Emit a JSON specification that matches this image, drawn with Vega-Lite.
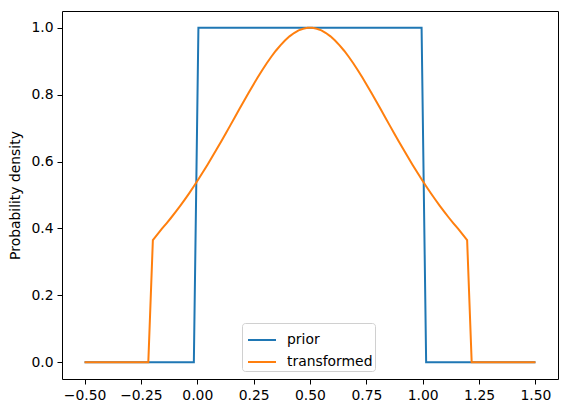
{
  "$schema": "https://vega.github.io/schema/vega-lite/v6.json",
  "autosize": {"type": "none"},
  "padding": {"left": 62, "top": 11, "right": 9, "bottom": 34},
  "width": 496,
  "height": 368,
  "background": "white",
  "config": {
    "font": "DejaVu Sans",
    "view": {"stroke": "black", "strokeWidth": 1},
    "axis": {"grid": false, "domain": false, "tickColor": "black", "tickSize": 5, "tickWidth": 1, "labelColor": "black", "labelFontSize": 13.9, "labelFont": "DejaVu Sans", "titleFont": "DejaVu Sans", "titleFontWeight": "normal", "titleFontSize": 13.9, "titleColor": "black", "labelPadding": 4}
  },
  "data": {"values": [
    {"series": "prior", "x": -0.5, "y": 0},
    {"series": "prior", "x": -0.01515, "y": 0},
    {"series": "prior", "x": 0.00505, "y": 1},
    {"series": "prior", "x": 0.99495, "y": 1},
    {"series": "prior", "x": 1.01515, "y": 0},
    {"series": "prior", "x": 1.5, "y": 0},
    {"series": "transformed", "x": -0.5, "y": 0},
    {"series": "transformed", "x": -0.21717, "y": 0},
    {"series": "transformed", "x": -0.19697, "y": 0.365},
    {"series": "transformed", "x": -0.17677, "y": 0.382},
    {"series": "transformed", "x": -0.15657, "y": 0.3992},
    {"series": "transformed", "x": -0.13636, "y": 0.4153},
    {"series": "transformed", "x": -0.11616, "y": 0.4320},
    {"series": "transformed", "x": -0.09596, "y": 0.4494},
    {"series": "transformed", "x": -0.07576, "y": 0.4676},
    {"series": "transformed", "x": -0.05556, "y": 0.4864},
    {"series": "transformed", "x": -0.03535, "y": 0.5058},
    {"series": "transformed", "x": -0.01515, "y": 0.5261},
    {"series": "transformed", "x": 0.00505, "y": 0.5470},
    {"series": "transformed", "x": 0.02525, "y": 0.5685},
    {"series": "transformed", "x": 0.04545, "y": 0.5906},
    {"series": "transformed", "x": 0.06566, "y": 0.6133},
    {"series": "transformed", "x": 0.08586, "y": 0.6365},
    {"series": "transformed", "x": 0.10606, "y": 0.6600},
    {"series": "transformed", "x": 0.12626, "y": 0.6840},
    {"series": "transformed", "x": 0.14646, "y": 0.7081},
    {"series": "transformed", "x": 0.16667, "y": 0.7324},
    {"series": "transformed", "x": 0.18687, "y": 0.7568},
    {"series": "transformed", "x": 0.20707, "y": 0.7810},
    {"series": "transformed", "x": 0.22727, "y": 0.8049},
    {"series": "transformed", "x": 0.24747, "y": 0.8283},
    {"series": "transformed", "x": 0.26768, "y": 0.8510},
    {"series": "transformed", "x": 0.28788, "y": 0.8729},
    {"series": "transformed", "x": 0.30808, "y": 0.8937},
    {"series": "transformed", "x": 0.32828, "y": 0.9132},
    {"series": "transformed", "x": 0.34848, "y": 0.9312},
    {"series": "transformed", "x": 0.36869, "y": 0.9475},
    {"series": "transformed", "x": 0.38889, "y": 0.9619},
    {"series": "transformed", "x": 0.40909, "y": 0.9742},
    {"series": "transformed", "x": 0.42929, "y": 0.9842},
    {"series": "transformed", "x": 0.44949, "y": 0.9919},
    {"series": "transformed", "x": 0.46970, "y": 0.9971},
    {"series": "transformed", "x": 0.48990, "y": 0.9997},
    {"series": "transformed", "x": 0.51010, "y": 0.9997},
    {"series": "transformed", "x": 0.53030, "y": 0.9971},
    {"series": "transformed", "x": 0.55051, "y": 0.9919},
    {"series": "transformed", "x": 0.57071, "y": 0.9842},
    {"series": "transformed", "x": 0.59091, "y": 0.9742},
    {"series": "transformed", "x": 0.61111, "y": 0.9619},
    {"series": "transformed", "x": 0.63131, "y": 0.9475},
    {"series": "transformed", "x": 0.65152, "y": 0.9312},
    {"series": "transformed", "x": 0.67172, "y": 0.9132},
    {"series": "transformed", "x": 0.69192, "y": 0.8937},
    {"series": "transformed", "x": 0.71212, "y": 0.8729},
    {"series": "transformed", "x": 0.73232, "y": 0.8510},
    {"series": "transformed", "x": 0.75253, "y": 0.8283},
    {"series": "transformed", "x": 0.77273, "y": 0.8049},
    {"series": "transformed", "x": 0.79293, "y": 0.7810},
    {"series": "transformed", "x": 0.81313, "y": 0.7568},
    {"series": "transformed", "x": 0.83333, "y": 0.7324},
    {"series": "transformed", "x": 0.85354, "y": 0.7081},
    {"series": "transformed", "x": 0.87374, "y": 0.6840},
    {"series": "transformed", "x": 0.89394, "y": 0.6600},
    {"series": "transformed", "x": 0.91414, "y": 0.6365},
    {"series": "transformed", "x": 0.93434, "y": 0.6133},
    {"series": "transformed", "x": 0.95455, "y": 0.5906},
    {"series": "transformed", "x": 0.97475, "y": 0.5685},
    {"series": "transformed", "x": 0.99495, "y": 0.5470},
    {"series": "transformed", "x": 1.01515, "y": 0.5261},
    {"series": "transformed", "x": 1.03535, "y": 0.5058},
    {"series": "transformed", "x": 1.05556, "y": 0.4864},
    {"series": "transformed", "x": 1.07576, "y": 0.4676},
    {"series": "transformed", "x": 1.09596, "y": 0.4494},
    {"series": "transformed", "x": 1.11616, "y": 0.4320},
    {"series": "transformed", "x": 1.13636, "y": 0.4153},
    {"series": "transformed", "x": 1.15657, "y": 0.3992},
    {"series": "transformed", "x": 1.17677, "y": 0.382},
    {"series": "transformed", "x": 1.19697, "y": 0.365},
    {"series": "transformed", "x": 1.21717, "y": 0},
    {"series": "transformed", "x": 1.5, "y": 0}
  ]},
  "mark": {"type": "line", "strokeWidth": 2, "clip": true},
  "encoding": {
    "x": {"field": "x", "type": "quantitative", "scale": {"domain": [-0.6, 1.6], "nice": false, "zero": false},
      "axis": {"title": null, "values": [-0.5, -0.25, 0, 0.25, 0.5, 0.75, 1, 1.25, 1.5], "format": ".2f"}},
    "y": {"field": "y", "type": "quantitative", "scale": {"domain": [-0.05, 1.05], "nice": false, "zero": false},
      "axis": {"title": "Probability density", "values": [0, 0.2, 0.4, 0.6, 0.8, 1.0], "format": ".1f", "titlePadding": 8}},
    "color": {"field": "series", "type": "nominal",
      "scale": {"domain": ["prior", "transformed"], "range": ["#1f77b4", "#ff7f0e"]},
      "legend": {"title": null, "orient": "none", "legendX": 180, "legendY": 312, "symbolType": "stroke", "symbolSize": 784, "symbolStrokeWidth": 2, "symbolOffset": 3, "labelFontSize": 13.9, "labelFont": "DejaVu Sans", "labelColor": "black", "padding": 2, "rowPadding": 0, "labelOffset": 10, "fillColor": "rgba(255,255,255,0.8)", "strokeColor": "#d0d0d0", "cornerRadius": 3}}
  }
}
